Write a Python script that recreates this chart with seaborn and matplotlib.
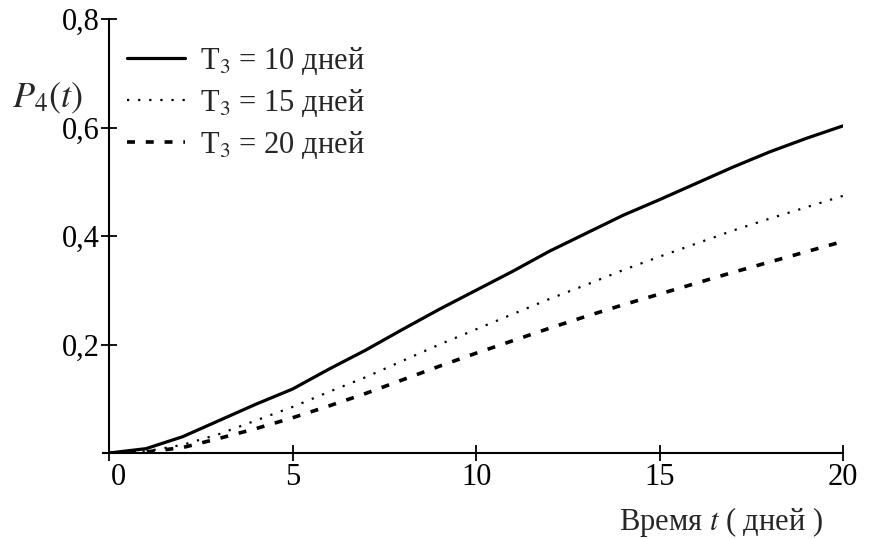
import numpy as np
import pandas as pd
import seaborn as sns
import matplotlib.pyplot as plt
from matplotlib.transforms import ScaledTranslation

t = [0, 1, 2, 3, 4, 5, 6, 7, 8, 9, 10, 11, 12, 13, 14, 15, 16, 17, 18, 19, 20]
p_10 = [0, 0.008, 0.03, 0.06, 0.09, 0.118, 0.155, 0.19, 0.228, 0.265, 0.30,
        0.335, 0.372, 0.405, 0.438, 0.467, 0.497, 0.527, 0.555, 0.58, 0.603]
p_15 = [0, 0.003, 0.015, 0.035, 0.06, 0.085, 0.113, 0.14, 0.17, 0.2, 0.228,
        0.256, 0.284, 0.31, 0.337, 0.362, 0.386, 0.41, 0.432, 0.453, 0.474]
p_20 = [0, 0.002, 0.01, 0.027, 0.045, 0.065, 0.087, 0.11, 0.135, 0.16, 0.184,
        0.207, 0.23, 0.252, 0.273, 0.293, 0.313, 0.333, 0.352, 0.371, 0.39]
labels = ['Т$_3$ = 10 дней', 'Т$_3$ = 15 дней', 'Т$_3$ = 20 дней']
xticks = [0, 5, 10, 15, 20]
yticks = [0.2, 0.4, 0.6, 0.8]

sns.set_style('white')
plt.rcParams['font.family'] = ['Liberation Serif', 'DejaVu Serif']
plt.rcParams['mathtext.fontset'] = 'stix'

fig = plt.figure(figsize=(8.7, 5.39), dpi=100)
ax = fig.add_axes([103 / 870, 1 - 453 / 539, 740 / 870, 434 / 539])

styles = [dict(linestyle='-', linewidth=2.3),
          dict(linestyle=(0, (1, 4)), linewidth=1.6),
          dict(linestyle=(0, (2.2, 3)), linewidth=2.6)]
for vals, lab, st in zip([p_10, p_15, p_20], labels, styles):
    sns.lineplot(x=t, y=vals, ax=ax, color='black', label=lab, **st)

ax.set_xlim(-0.17, 20)
ax.set_ylim(0, 0.8)
ax.spines['left'].set_position(('data', 0))
ax.spines['top'].set_visible(False)
ax.spines['right'].set_visible(False)
for s in ['left', 'bottom']:
    ax.spines[s].set_color('black')
    ax.spines[s].set_linewidth(1.5)
ax.set_xticks(xticks)
ax.set_xticklabels([str(v) for v in xticks])
ax.set_yticks(yticks)
ax.set_yticklabels([('%.1f' % v).replace('.', ',') for v in yticks])
ax.tick_params(bottom=True, left=True, direction='inout', length=12, width=1.3,
               labelsize=22, colors='black')
ax.tick_params(axis='x', pad=1)
ax.tick_params(axis='y', pad=1)
ax.set_xlabel('')
ax.set_ylabel('')

lab0 = ax.get_xticklabels()[0]
lab0.set_transform(lab0.get_transform() + ScaledTranslation(0.09, 0, fig.dpi_scale_trans))

fig.text(12 / 870, 1 - 98 / 539, '$P_4(t)$', fontsize=26, va='center', ha='left')
fig.text(823 / 870, 1 - 522 / 539, 'Время $t$ ( дней )', fontsize=22, va='center', ha='right')

ax.legend(loc='upper left', bbox_to_anchor=(127 / 870, 1 - 45 / 539),
          bbox_transform=fig.transFigure, frameon=False, fontsize=22,
          handlelength=1.9, handletextpad=0.5, labelspacing=0.32,
          borderpad=0, borderaxespad=0)

fig.savefig('out.png', dpi=100)
